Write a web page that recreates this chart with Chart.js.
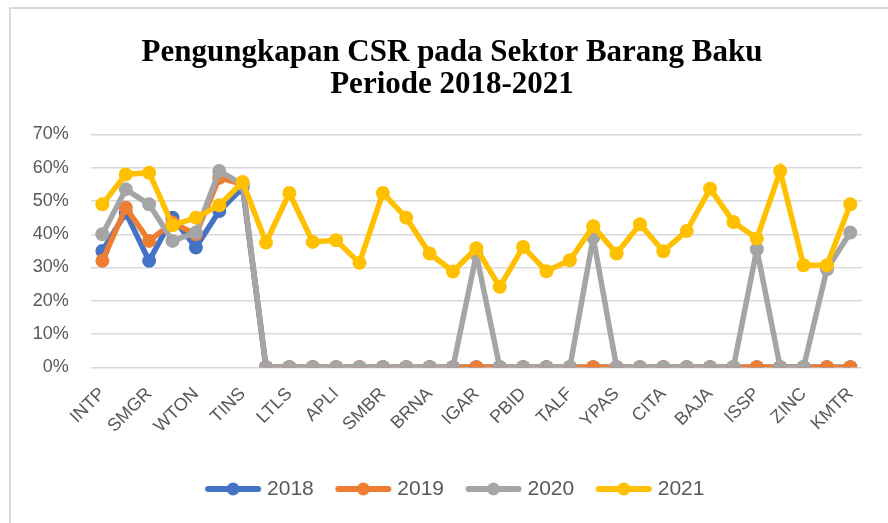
<!DOCTYPE html>
<html>
<head>
<meta charset="utf-8">
<script src="https://cdn.jsdelivr.net/npm/chart.js@4.4.1/dist/chart.umd.min.js"></script>
<style>
  body { margin: 0; background: #fff; }
  #wrap { position: relative; width: 888px; height: 523px; overflow: hidden; }
  #frame { position: absolute; left: 9px; top: 7px; width: 900px; height: 540px; border: 2px solid #d9d9d9; box-sizing: border-box; }
  canvas { position: absolute; left: 0; top: 0; }
</style>
</head>
<body>
<div id="wrap">
  <div id="frame"></div>
  <canvas id="csrChart" width="888" height="523"></canvas>
</div>
<script>
const companies = ["INTP", "INCO", "SMGR", "ANTM", "WTON", "MDKA", "TINS", "BRPT", "LTLS", "TPIA", "APLI", "AKPI",
  "SMBR", "SMCB", "BRNA", "TRST", "IGAR", "IMPC", "PBID", "FPNI", "TALF", "ESIP", "YPAS", "TBMS",
  "CITA", "NIKL", "BAJA", "GDST", "ISSP", "KRAS", "ZINC", "OPMS", "KMTR"];

const csr2018 = [35, 46.5, 32, 45, 36, 47, 54, 0, 0, 0, 0, 0, 0, 0, 0, 0, 0, 0, 0, 0, 0, 0, 0, 0, 0, 0, 0, 0, 0, 0, 0, 0, 0];
const csr2019 = [32, 48, 38, 43.5, 40, 57, 55, 0, 0, 0, 0, 0, 0, 0, 0, 0, 0, 0, 0, 0, 0, 0, 0, 0, 0, 0, 0, 0, 0, 0, 0, 0, 0];
const csr2020 = [40, 53.5, 49, 38, 40.5, 59, 55, 0, 0, 0, 0, 0, 0, 0, 0, 0, 34, 0, 0, 0, 0, 39, 0, 0, 0, 0, 0, 0, 35.5, 0, 0, 29.5, 40.5];
const csr2021 = [49, 58, 58.5, 42.7, 45, 48.7, 55.7, 37.5, 52.4, 37.7, 38.2, 31.4, 52.4, 45, 34.2, 28.8, 35.8, 24.2, 36.2, 28.9, 32.2,
  42.4, 34.2, 43, 34.9, 41, 53.7, 43.7, 38.7, 59, 30.7, 30.7, 49];

const years = ["2018", "2019", "2020", "2021"];
const colors = ["#4472C4", "#ED7D31", "#A5A5A5", "#FFC000"];
const seriesList = [csr2018, csr2019, csr2020, csr2021];

// legend icon: thick line with a dot in the middle, like Excel
function legendIcon(color) {
  const c = document.createElement("canvas");
  c.width = 58; c.height = 14;
  const g = c.getContext("2d");
  g.strokeStyle = color; g.lineWidth = 6; g.lineCap = "round";
  g.beginPath(); g.moveTo(4, 7); g.lineTo(54, 7); g.stroke();
  g.fillStyle = color;
  g.beginPath(); g.arc(29, 7, 6.5, 0, Math.PI * 2); g.fill();
  return c;
}

const datasets = seriesList.map((vals, i) => ({
  label: years[i],
  data: vals,
  borderColor: colors[i],
  backgroundColor: colors[i],
  borderWidth: 5.5,
  pointRadius: 7,
  pointHoverRadius: 7,
  pointBorderWidth: 0,
  pointStyle: "circle",
  legendIcon: legendIcon(colors[i]),
  tension: 0,
  order: 4 - i
}));

const tickFont = { family: "Liberation Sans", size: 18 };

// the excel frame is wider than the picture, so title and legend sit a bit right of the plot centre
const shiftBoxes = {
  id: "shiftBoxes",
  afterLayout(chart) {
    chart.titleBlock.left += 16; chart.titleBlock.right += 16;
    chart.legend.left += 21; chart.legend.right += 21;
  }
};

new Chart(document.getElementById("csrChart"), {
  type: "line",
  data: { labels: companies, datasets: datasets },
  plugins: [shiftBoxes],
  options: {
    responsive: false,
    animation: false,
    devicePixelRatio: 1,
    layout: { padding: { left: 10, right: 26, top: 0, bottom: 13.5 } },
    plugins: {
      title: {
        display: true,
        text: ["Pengungkapan CSR pada Sektor Barang Baku", "Periode 2018-2021"],
        color: "#000",
        font: { family: "Liberation Serif", size: 31, weight: "bold", lineHeight: 1.04 },
        padding: { top: 37, bottom: 33 }
      },
      legend: {
        position: "bottom",
        labels: {
          usePointStyle: true,
          pointStyleWidth: 47,
          padding: 26,
          color: "#595959",
          font: { family: "Liberation Sans", size: 21 },
          sort: (a, b) => a.datasetIndex - b.datasetIndex,
          generateLabels: chart => chart.data.datasets.map((d, i) => ({
            text: d.label,
            fillStyle: d.borderColor,
            strokeStyle: d.borderColor,
            lineWidth: 0,
            pointStyle: d.legendIcon,
            fontColor: "#595959",
            datasetIndex: i
          }))
        }
      },
      tooltip: { enabled: false }
    },
    scales: {
      x: {
        offset: true,
        grid: { display: false, drawTicks: false },
        border: { display: false },
        afterFit: s => { s.height = 85.2; },
        ticks: {
          autoSkip: false,
          maxRotation: 45,
          minRotation: 45,
          padding: 16,
          color: "#595959",
          font: tickFont,
          callback: function (v, i) { return i % 2 === 0 ? this.getLabelForValue(v) : ""; }
        }
      },
      y: {
        min: 0,
        max: 70,
        grid: { color: "#d9d9d9", lineWidth: 1.5, drawTicks: false },
        border: { display: false },
        afterFit: s => { s.width = 80.7; },
        ticks: {
          stepSize: 10,
          padding: 22,
          color: "#595959",
          font: tickFont,
          callback: v => v + "%"
        }
      }
    }
  }
});
</script>
</body>
</html>
